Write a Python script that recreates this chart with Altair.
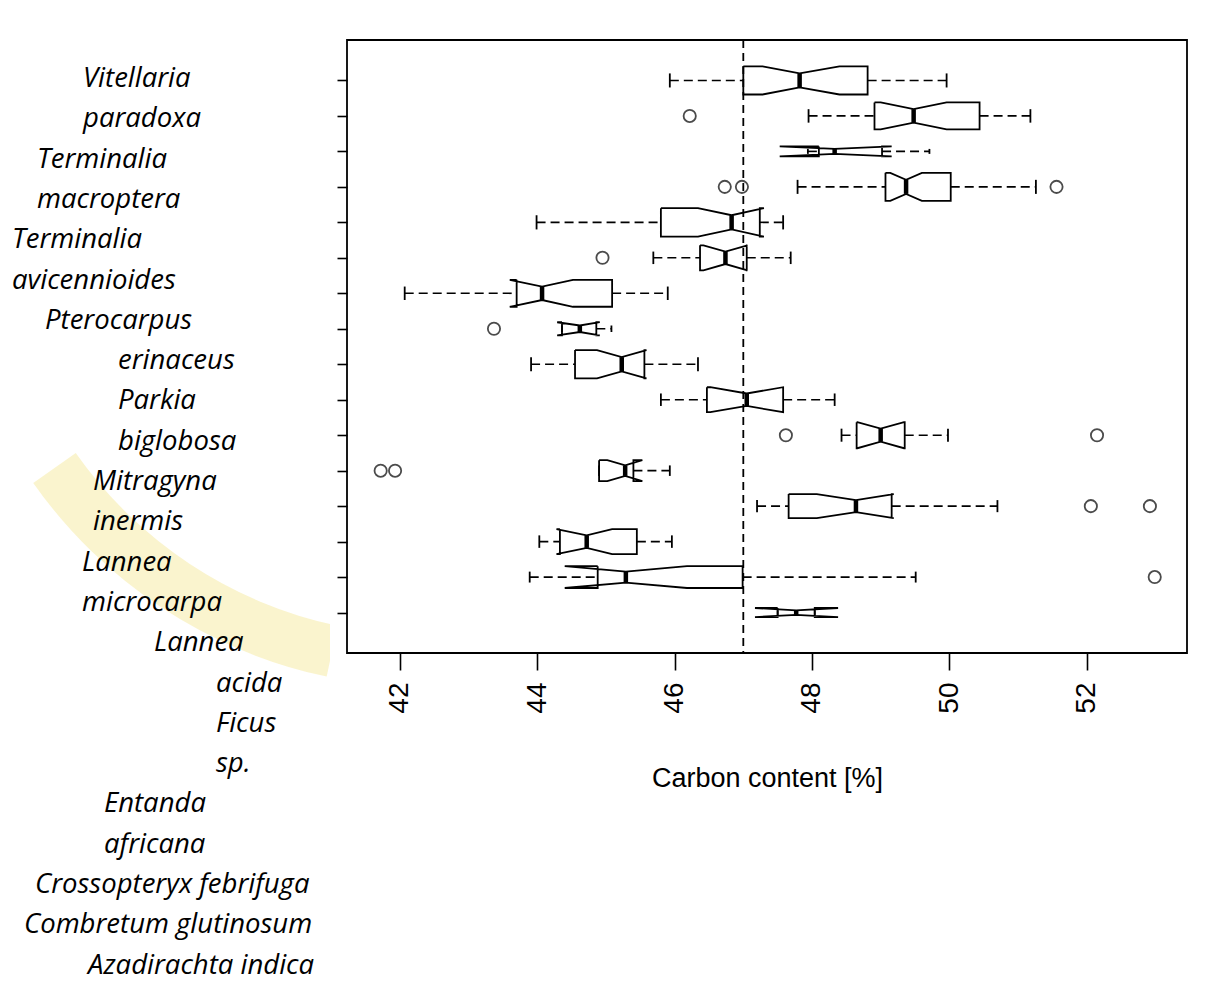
import altair as alt
import pandas as pd

# ---- data (top row first) ----
rows = list(range(1, 17))
whisker_lo = [45.93, 47.95, 47.94, 47.79, 43.99, 45.69, 42.07, 44.36, 43.91, 45.80, 48.43, 44.90, 47.20, 44.03, 43.89, 47.50]
hinge_lo   = [47.00, 48.91, 48.10, 49.07, 45.80, 46.37, 43.70, 44.36, 44.55, 46.47, 48.65, 44.90, 47.66, 44.33, 44.88, 47.50]
notch_lo   = [47.28, 49.00, 47.53, 49.14, 46.34, 46.42, 43.60, 44.29, 44.87, 46.52, 48.66, 45.02, 48.07, 44.28, 44.40, 47.17]
median     = [47.82, 49.48, 48.33, 49.37, 46.83, 46.74, 44.07, 44.62, 45.23, 47.05, 49.00, 45.28, 48.64, 44.72, 45.29, 47.77]
notch_hi   = [48.40, 49.96, 49.16, 49.60, 47.30, 47.06, 44.52, 44.91, 45.59, 47.58, 49.34, 45.53, 49.19, 45.09, 46.18, 48.38]
hinge_hi   = [48.81, 50.44, 49.02, 50.02, 47.24, 47.05, 45.09, 44.86, 45.56, 47.58, 49.35, 45.40, 49.16, 45.45, 46.99, 48.04]
whisker_hi = [49.96, 51.18, 49.71, 51.26, 47.58, 47.69, 45.90, 45.08, 46.34, 48.33, 49.98, 45.93, 50.70, 45.96, 49.51, 48.04]
rel_width  = [0.99, 0.95, 0.35, 0.99, 1.00, 0.88, 0.95, 0.46, 1.00, 0.88, 0.92, 0.74, 0.85, 0.88, 0.77, 0.32]
outlier_row = [2, 4, 4, 4, 6, 8, 11, 11, 12, 12, 13, 13, 15]
outlier_val = [46.22, 46.73, 46.98, 51.56, 44.95, 43.37, 47.62, 52.15, 41.72, 41.93, 52.06, 52.92, 52.99]
ref_value = 47
x_ticks = [42, 44, 46, 48, 50, 52]
x_title = "Carbon content [%]"

label_lines = ["Vitellaria", "paradoxa", "Terminalia", "macroptera", "Terminalia",
               "avicennioides", "Pterocarpus", "erinaceus", "Parkia", "biglobosa",
               "Mitragyna", "inermis", "Lannea", "microcarpa", "Lannea", "acida",
               "Ficus", "sp.", "Entanda", "africana", "Crossopteryx febrifuga",
               "Combretum glutinosum", "Azadirachta indica"]
label_indent = [83, 83, 37, 37, 12, 12, 45, 118, 118, 118, 93, 93, 82, 82, 154,
                216, 216, 216, 104, 104, 35, 24, 88]

# ---- layout ----
PAD_L, PAD_T = 347, 40
W, H = 840, 613
BOXWEX = 0.4

# ---- build tables ----
poly, whisk, staple, med = [], [], [], []
for i, r in enumerate(rows):
    hw = BOXWEX * rel_width[i]
    xs = [hinge_lo[i], notch_lo[i], median[i], notch_hi[i], hinge_hi[i],
          hinge_hi[i], notch_hi[i], median[i], notch_lo[i], hinge_lo[i], hinge_lo[i]]
    ys = [r - hw, r - hw, r - hw / 2, r - hw, r - hw,
          r + hw, r + hw, r + hw / 2, r + hw, r + hw, r - hw]
    for k, (xv, yv) in enumerate(zip(xs, ys)):
        poly.append({"row": r, "k": k, "x": xv, "y": yv})
    whisk.append({"row": r, "x": whisker_lo[i], "x2": hinge_lo[i], "y": r})
    whisk.append({"row": r, "x": hinge_hi[i], "x2": whisker_hi[i], "y": r})
    for v in (whisker_lo[i], whisker_hi[i]):
        staple.append({"row": r, "x": v, "y": r - hw / 2, "y2": r + hw / 2})
    med.append({"row": r, "x": median[i], "y": r - hw / 2, "y2": r + hw / 2})

poly = pd.DataFrame(poly)
whisk = pd.DataFrame(whisk)
staple = pd.DataFrame(staple)
med = pd.DataFrame(med)
outl = pd.DataFrame({"row": outlier_row, "x": outlier_val})
ref = pd.DataFrame({"x": [ref_value]})

xscale = alt.Scale(domain=[41.23, 53.46], nice=False, zero=False)
yscale = alt.Scale(domain=[-0.14, 17.14], nice=False, zero=False, reverse=True)

xaxis = alt.Axis(values=x_ticks, format="d", title=x_title, labelAngle=-90, tickSize=17,
                 labelPadding=12, domain=False, grid=False, zindex=2,
                 labelFont="Liberation Sans", labelFontSize=28, labelColor="black",
                 titleFont="Liberation Sans", titleFontSize=27, titleFontWeight="normal",
                 titleColor="black", titlePadding=52, tickColor="black", tickWidth=1.6)
yaxis = alt.Axis(values=rows, labels=False, title=None, tickSize=10, domain=False,
                 grid=False, zindex=2, tickColor="black", tickWidth=1.6)

boxes = alt.Chart(poly).mark_line(color="black", strokeWidth=1.8).encode(
    x=alt.X("x:Q", scale=xscale, axis=xaxis),
    y=alt.Y("y:Q", scale=yscale, axis=yaxis),
    order="k:Q",
    detail="row:N",
)
whiskers = alt.Chart(whisk).mark_rule(color="black", strokeWidth=1.6, strokeDash=[9, 5]).encode(
    x="x:Q", x2="x2:Q", y="y:Q"
)
staples = alt.Chart(staple).mark_rule(color="black", strokeWidth=1.8).encode(
    x="x:Q", y="y:Q", y2="y2:Q"
)
medians = alt.Chart(med).mark_rule(color="black", strokeWidth=4.5).encode(
    x="x:Q", y="y:Q", y2="y2:Q"
)
points = alt.Chart(outl).mark_point(shape="circle", filled=False, size=150,
                                     color="black", strokeWidth=1.8).encode(
    x="x:Q", y="row:Q"
)
refline = alt.Chart(ref).mark_rule(color="black", strokeWidth=1.8, strokeDash=[8, 5]).encode(
    x="x:Q", y=alt.value(0), y2=alt.value(H)
)
frame = alt.Chart(ref).mark_rect(filled=False, stroke="black", strokeWidth=1.8).encode(
    x=alt.value(0), x2=alt.value(W), y=alt.value(0), y2=alt.value(H)
)

plot = alt.layer(refline, whiskers, boxes, staples, medians, points, frame)

# ---- faint background watermark band (decoration) and the white figure panel ----
wm = pd.DataFrame({"a": [0]})
decor = alt.layer(
    alt.Chart(wm).mark_arc(radius=480, radius2=428, theta=3.35, theta2=4.1,
                           color="#f0dc5c", opacity=0.3).encode(
        x=alt.value(426 - PAD_L), y=alt.value(207 - PAD_T)),
    alt.Chart(wm).mark_rect(color="white").encode(
        x=alt.value(330 - PAD_L), x2=alt.value(1200 - PAD_L),
        y=alt.value(13 - PAD_T), y2=alt.value(810 - PAD_T)),
)

lab = pd.DataFrame({
    "text": label_lines,
    "px": [v - PAD_L for v in label_indent],
    "py": [79 + i * 40.3 - PAD_T for i in range(len(label_lines))],
})
labels = alt.Chart(lab).mark_text(align="left", baseline="middle", font="Open Sans",
                                  fontStyle="italic", fontSize=27.5, color="black").encode(
    x=alt.X("px:Q", scale=None, axis=None),
    y=alt.Y("py:Q", scale=None, axis=None),
    text="text:N",
)

chart = alt.layer(decor, plot, labels).resolve_scale(x="independent", y="independent").properties(
    width=W, height=H,
    autosize=alt.AutoSizeParams(type="none"),
    padding={"left": PAD_L, "top": PAD_T, "right": 1205 - PAD_L - W, "bottom": 982 - PAD_T - H},
    background="white",
).configure_view(stroke=None)

chart.save("out.html", embed_options={"renderer": "svg", "actions": False})
